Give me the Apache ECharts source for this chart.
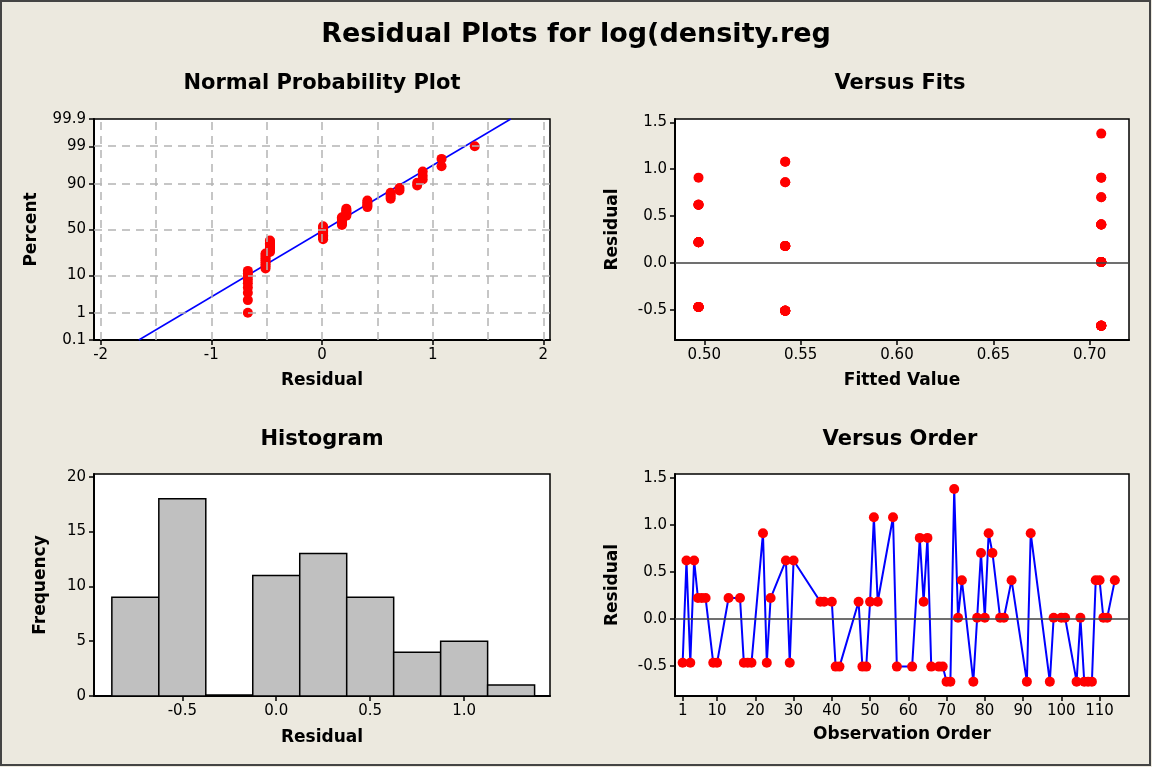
<!DOCTYPE html>
<html>
<head>
<meta charset="utf-8">
<title>Residual Plots for log(density.reg</title>
<script src="https://cdn.jsdelivr.net/npm/echarts@6/dist/echarts.min.js"></script>
<style>
html, body { margin: 0; padding: 0; background: #ECE9DF; }
#main { width: 1152px; height: 767px; }
</style>
</head>
<body>
<div id="main"></div>
<script>
// row numbers of the observations that were used (rows with gaps are missing)
var obsOrder = [1, 2, 3, 4, 5, 6, 7, 9, 10, 13, 16, 17, 18, 19, 22, 23, 24, 28, 29, 30,
    37, 38, 40, 41, 42, 47, 48, 49, 50, 51, 52, 56, 57, 61, 63, 64, 65, 66, 68, 69,
    70, 71, 72, 73, 74, 77, 78, 79, 80, 81, 82, 84, 85, 87, 91, 92, 97, 98, 100, 101,
    104, 105, 106, 107, 108, 109, 110, 111, 112, 114];
var residuals = [-0.47, 0.62, -0.47, 0.62, 0.22, 0.22, 0.22, -0.47, -0.47, 0.22, 0.22, -0.47, -0.47, -0.47, 0.91, -0.47, 0.22, 0.62, -0.47, 0.62,
    0.18, 0.18, 0.18, -0.51, -0.51, 0.18, -0.51, -0.51, 0.18, 1.08, 0.18, 1.08, -0.51, -0.51, 0.86, 0.18, 0.86, -0.51, -0.51, -0.51,
    -0.67, -0.67, 1.38, 0.01, 0.41, -0.67, 0.01, 0.70, 0.01, 0.91, 0.70, 0.01, 0.01, 0.41, -0.67, 0.91, -0.67, 0.01, 0.01, 0.01,
    -0.67, 0.01, -0.67, -0.67, -0.67, 0.41, 0.41, 0.01, 0.01, 0.41];
var fitted = [0.497, 0.497, 0.497, 0.497, 0.497, 0.497, 0.497, 0.497, 0.497, 0.497, 0.497, 0.497, 0.497, 0.497, 0.497, 0.497, 0.497, 0.497, 0.497, 0.497,
    0.542, 0.542, 0.542, 0.542, 0.542, 0.542, 0.542, 0.542, 0.542, 0.542, 0.542, 0.542, 0.542, 0.542, 0.542, 0.542, 0.542, 0.542, 0.542, 0.542,
    0.706, 0.706, 0.706, 0.706, 0.706, 0.706, 0.706, 0.706, 0.706, 0.706, 0.706, 0.706, 0.706, 0.706, 0.706, 0.706, 0.706, 0.706, 0.706, 0.706,
    0.706, 0.706, 0.706, 0.706, 0.706, 0.706, 0.706, 0.706, 0.706, 0.706];

// histogram bins
var histCenters = [-0.75, -0.5, -0.25, 0, 0.25, 0.5, 0.75, 1.0, 1.25];
var histCounts = [9, 18, 0, 11, 13, 9, 4, 5, 1];
var binWidth = 0.25;

// tick labels
var pctTicks = [0.1, 1, 10, 50, 90, 99, 99.9];
var pctGrid = [1, 10, 50, 90, 99];
var normXTicks = [-2, -1, 0, 1, 2];
var normXGrid = [-2, -1.5, -1, -0.5, 0, 0.5, 1, 1.5, 2];
var fitTicks = [0.50, 0.55, 0.60, 0.65, 0.70];
var residTicks = [-0.5, 0.0, 0.5, 1.0, 1.5];
var histXTicks = [-0.5, 0.0, 0.5, 1.0];
var freqTicks = [0, 5, 10, 15, 20];
var orderTicks = [1, 10, 20, 30, 40, 50, 60, 70, 80, 90, 100, 110];

// inverse normal cdf (Acklam)
function probit(p) {
    var a = [-3.969683028665376e+01, 2.209460984245205e+02, -2.759285104469687e+02, 1.383577518672690e+02, -3.066479806614716e+01, 2.506628277459239e+00];
    var b = [-5.447609879822406e+01, 1.615858368580409e+02, -1.556989798598866e+02, 6.680131188771972e+01, -1.328068155288572e+01];
    var c = [-7.784894002430293e-03, -3.223964580411365e-01, -2.400758277161838e+00, -2.549732539343734e+00, 4.374664141464968e+00, 2.938163982698783e+00];
    var d = [7.784695709041462e-03, 3.224671290700398e-01, 2.445134137142996e+00, 3.754408661907416e+00];
    var pl = 0.02425, q, r;
    if (p < pl) {
        q = Math.sqrt(-2 * Math.log(p));
        return (((((c[0] * q + c[1]) * q + c[2]) * q + c[3]) * q + c[4]) * q + c[5]) / ((((d[0] * q + d[1]) * q + d[2]) * q + d[3]) * q + 1);
    }
    if (p > 1 - pl) {
        q = Math.sqrt(-2 * Math.log(1 - p));
        return -(((((c[0] * q + c[1]) * q + c[2]) * q + c[3]) * q + c[4]) * q + c[5]) / ((((d[0] * q + d[1]) * q + d[2]) * q + d[3]) * q + 1);
    }
    q = p - 0.5; r = q * q;
    return (((((a[0] * r + a[1]) * r + a[2]) * r + a[3]) * r + a[4]) * r + a[5]) * q / (((((b[0] * r + b[1]) * r + b[2]) * r + b[3]) * r + b[4]) * r + 1);
}

var chart = echarts.init(document.getElementById('main'));

// normal probability plot: sorted residuals vs median ranks
var n = residuals.length;
var sorted = residuals.slice().sort(function(x, y) { return x - y; });
var probData = sorted.map(function(v, i) { return [v, probit((i + 1 - 0.3) / (n + 0.4))]; });
var mean = residuals.reduce(function(s, v) { return s + v; }, 0) / n;
var sd = Math.sqrt(residuals.reduce(function(s, v) { return s + (v - mean) * (v - mean); }, 0) / (n - 1));
var pctZ = pctTicks.map(function(p) { return probit(p / 100); });
var zLo = pctZ[0], zHi = pctZ[pctZ.length - 1];
var probLine = [[mean + sd * zLo, zLo], [mean + sd * zHi, zHi]];

var font = 'DejaVu Sans';
function pctLabel(v) {
    for (var i = 0; i < pctTicks.length; i++) {
        if (Math.abs(pctZ[i] - v) < 1e-6) return String(pctTicks[i]);
    }
    return '';
}

function xAx(gi, min, max, ticks, name, gap, fmt) {
    return {
        type: 'value', gridIndex: gi, min: min, max: max, name: name,
        nameLocation: 'middle', nameGap: gap,
        nameTextStyle: { fontWeight: 'bold', fontSize: 17, color: '#000', fontFamily: font },
        axisLine: { onZero: false, lineStyle: { color: '#000', width: 2 } },
        axisTick: { customValues: ticks, length: 5, lineStyle: { color: '#000', width: 1.5 } },
        axisLabel: { customValues: ticks, color: '#000', fontSize: 15, fontFamily: font, margin: 8,
            formatter: fmt, showMinLabel: true, showMaxLabel: true },
        splitLine: { show: false }
    };
}
function yAx(gi, min, max, ticks, name, gap, fmt) {
    var a = xAx(gi, min, max, ticks, name, gap, fmt);
    a.nameRotate = 90;
    return a;
}
var gridStyle = { show: true, backgroundColor: '#fff', borderColor: '#000', borderWidth: 1.5 };
var subTitle = { fontSize: 21, fontWeight: 'bold', color: '#000', fontFamily: font };

var option = {
    backgroundColor: '#ECE9DF',
    textStyle: { fontFamily: font },
    animation: false,
    title: [
        { text: 'Residual Plots for log(density.reg', left: 576, top: 21, textAlign: 'center', padding: 0,
          textStyle: { fontSize: 27, fontWeight: 'bold', color: '#000', fontFamily: font } },
        { text: 'Normal Probability Plot', left: 322, top: 73, textAlign: 'center', padding: 0, textStyle: subTitle },
        { text: 'Versus Fits', left: 900, top: 73, textAlign: 'center', padding: 0, textStyle: subTitle },
        { text: 'Histogram', left: 322, top: 429, textAlign: 'center', padding: 0, textStyle: subTitle },
        { text: 'Versus Order', left: 900, top: 429, textAlign: 'center', padding: 0, textStyle: subTitle }
    ],
    graphic: [{
        type: 'rect', shape: { x: 1, y: 1, width: 1149, height: 764 },
        style: { fill: 'none', stroke: '#444', lineWidth: 2 }, silent: true
    }],
    grid: [
        Object.assign({ left: 94, top: 119, width: 456, height: 221 }, gridStyle),
        Object.assign({ left: 675, top: 119, width: 454, height: 221 }, gridStyle),
        Object.assign({ left: 94, top: 474, width: 456, height: 222 }, gridStyle),
        Object.assign({ left: 675, top: 474, width: 454, height: 222 }, gridStyle)
    ],
    xAxis: [
        xAx(0, -2.06, 2.06, normXTicks, 'Residual', 32, function(v) { return String(v); }),
        xAx(1, 0.4848, 0.7204, fitTicks, 'Fitted Value', 32, function(v) { return v.toFixed(2); }),
        xAx(2, -0.97, 1.457, histXTicks, 'Residual', 33, function(v) { return v.toFixed(1); }),
        xAx(3, -1, 117.7, orderTicks, 'Observation Order', 30, function(v) { return String(v); })
    ],
    yAxis: [
        yAx(0, zLo, zHi, pctZ, 'Percent', 54, pctLabel),
        yAx(1, -0.823, 1.536, residTicks, 'Residual', 54, function(v) { return v.toFixed(1); }),
        yAx(2, 0, 20.25, freqTicks, 'Frequency', 45, function(v) { return String(v); }),
        yAx(3, -0.823, 1.54, residTicks, 'Residual', 54, function(v) { return v.toFixed(1); })
    ],
    series: [
        {
            // dashed reference grid of the probability plot
            type: 'line', xAxisIndex: 0, yAxisIndex: 0, data: [], silent: true,
            markLine: {
                silent: true, symbol: 'none', label: { show: false },
                lineStyle: { color: '#B4B4B4', type: [8, 6], width: 1.5 },
                data: pctGrid.map(function(p) { return { yAxis: probit(p / 100) }; })
                    .concat(normXGrid.map(function(v) { return { xAxis: v }; }))
            }
        },
        {
            type: 'line', xAxisIndex: 0, yAxisIndex: 0, data: probLine, symbol: 'none', silent: true,
            lineStyle: { color: '#0000FF', width: 1.5 }, z: 3
        },
        {
            type: 'scatter', xAxisIndex: 0, yAxisIndex: 0, data: probData, symbolSize: 10,
            itemStyle: { color: '#FF0000', opacity: 1 }, z: 4
        },
        {
            type: 'scatter', xAxisIndex: 1, yAxisIndex: 1, symbolSize: 10,
            data: fitted.map(function(f, i) { return [f, residuals[i]]; }),
            itemStyle: { color: '#FF0000', opacity: 1 }, z: 4,
            markLine: {
                silent: true, symbol: 'none', label: { show: false },
                lineStyle: { color: '#404040', type: 'solid', width: 1.5 },
                data: [{ yAxis: 0 }]
            }
        },
        {
            type: 'custom', xAxisIndex: 2, yAxisIndex: 2,
            data: histCenters.map(function(c, i) { return [c, histCounts[i]]; }),
            encode: { x: 0, y: 1 },
            renderItem: function(params, api) {
                var c = api.value(0), cnt = api.value(1);
                var p0 = api.coord([c - binWidth / 2, cnt]);
                var p1 = api.coord([c + binWidth / 2, 0]);
                var h = Math.max(p1[1] - p0[1], 1);
                return {
                    type: 'rect',
                    shape: { x: p0[0], y: p1[1] - h, width: p1[0] - p0[0], height: h },
                    style: { fill: '#C0C0C0', stroke: '#000', lineWidth: 1.5 }
                };
            }
        },
        {
            type: 'line', xAxisIndex: 3, yAxisIndex: 3,
            data: obsOrder.map(function(o, i) { return [o, residuals[i]]; }),
            symbol: 'circle', symbolSize: 10, showSymbol: true,
            lineStyle: { color: '#0000FF', width: 2 },
            itemStyle: { color: '#FF0000', opacity: 1 }, z: 4,
            markLine: {
                silent: true, symbol: 'none', label: { show: false },
                lineStyle: { color: '#404040', type: 'solid', width: 1.5 },
                data: [{ yAxis: 0 }]
            }
        }
    ]
};

chart.setOption(option);
</script>
</body>
</html>
